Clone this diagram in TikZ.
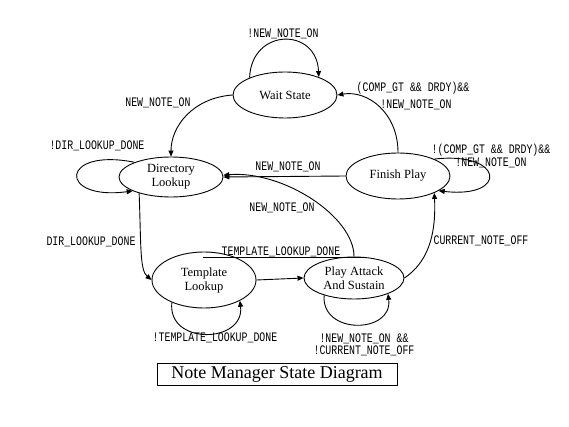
\documentclass[tikz,border=0pt]{standalone}
\usepackage{fontspec}
\setmainfont{Liberation Serif}
\newfontfamily\condmono[FakeStretch=0.76]{Liberation Mono}
\usetikzlibrary{arrows.meta,shapes.geometric}

\begin{document}
\begin{tikzpicture}[x=1pt, y=-1pt,
    every node/.style={inner sep=0pt},
    fsmstate/.style={draw=black, line width=0.9pt, ellipse, minimum width=104pt,
                     minimum height=46pt, align=center,
                     font=\fontsize{12.5}{14}\selectfont},
    trans/.style={->, line width=0.9pt, >={Triangle[length=6pt,width=5pt]}},
    cond/.style={font=\condmono\fontsize{13}{12.5}\selectfont, align=center},
    titlebox/.style={draw=black, line width=0.9pt, minimum width=240pt,
                     minimum height=22pt, font=\fontsize{18}{20}\selectfont}
]
\useasboundingbox (0,0) rectangle (569,427);

% --- States ---
\node[fsmstate] (wait) at (285,95) {Wait State};
\node[fsmstate, minimum height=40pt] (dir) at (171,177) {Directory\\Lookup};
\node[fsmstate] (fin) at (398,176) {Finish Play};
\node[fsmstate, minimum height=56pt] (tpl) at (204,280) {Template\\Lookup};
\node[fsmstate, minimum width=100pt, minimum height=42pt] (play) at (354,278)
    {Play Attack\\And Sustain};

% --- Transitions ---
\draw[trans] (wait.154) .. controls +(2,-50) and +(-2,-50) .. (wait.28);
\draw[trans] (wait.180) .. controls +(-40,3) and +(0,-30) .. (dir.90);
\draw[trans] (fin.90) .. controls +(0,-40) and +(30,-5) .. (wait.0);
\draw[trans] (dir.158) .. controls +(-75,-15) and +(-75,10) .. (dir.200);
\draw[trans] (fin.180) -- (dir.0);
\draw[trans] (play.90) .. controls +(0,-40) and +(60,-5) .. (dir.2);
\draw[trans] (dir.207) .. controls +(2,50) and +(-12,-10) .. (tpl.180);
\draw[trans] (tpl.215) .. controls +(-5,43) and +(5,43) .. (tpl.330);
\draw[trans] (tpl.0) -- (play.180);
\draw[trans] (play.210) .. controls +(-3,40) and +(5,40) .. (play.335);
\draw[trans] (play.0) .. controls +(22,-15) and +(2,45) .. (fin.335);
\draw[trans] (fin.25) .. controls +(70,-8) and +(70,8) .. (fin.340);

% --- Conditions ---
\node[cond] (lwait) at (283,34) {!NEW\_NOTE\_ON};
\node[cond] (lwd) at (158,103) {NEW\_NOTE\_ON};
\node[cond] (lfw1) at (413,88) {(COMP\_GT \&\& DRDY)\&\&};
\node[cond] (lfw2) at (416,105) {!NEW\_NOTE\_ON};
\node[cond] (ldir) at (97,146) {!DIR\_LOOKUP\_DONE};
\node[cond] (lfd) at (288,167) {NEW\_NOTE\_ON};
\node[cond] (lpd) at (282,208) {NEW\_NOTE\_ON};
\node[cond] (lfin) at (491,156) {!(COMP\_GT \&\& DRDY)\&\&\\!NEW\_NOTE\_ON};
\node[cond] (ldt) at (91,242) {DIR\_LOOKUP\_DONE};
\node[cond] (ltp) at (281,252) {TEMPLATE\_LOOKUP\_DONE};
\node[cond] (lpf) at (481,241) {CURRENT\_NOTE\_OFF};
\node[cond] (ltpl) at (215,338) {!TEMPLATE\_LOOKUP\_DONE};
\node[cond] (lplay) at (364,345) {!NEW\_NOTE\_ON \&\&\\!CURRENT\_NOTE\_OFF};
\draw[line width=0.9pt] ([xshift=-19pt]ltp.south west) -- ([xshift=22pt]ltp.south east);

% --- Title ---
\node[titlebox] (ttl) at (277,374) {Note Manager State Diagram};

\end{tikzpicture}
\end{document}
